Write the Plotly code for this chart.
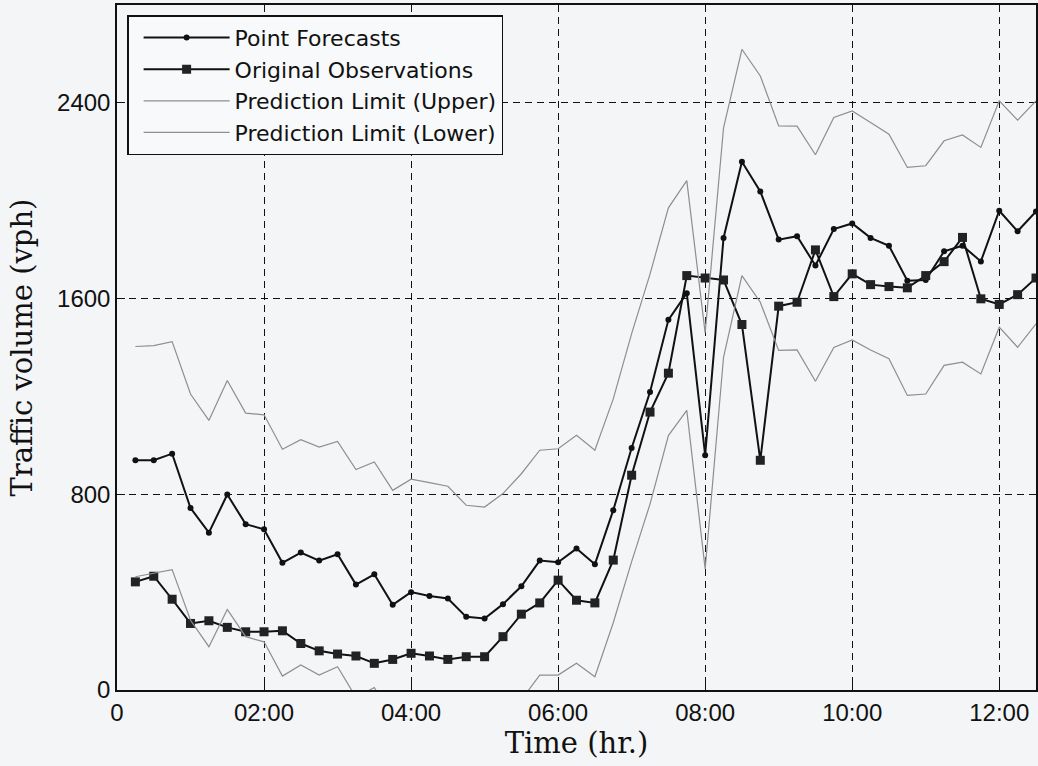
import plotly.graph_objects as go

hours = [0.25, 0.5, 0.75, 1.0, 1.25, 1.5, 1.75, 2.0, 2.25, 2.5,
         2.75, 3.0, 3.25, 3.5, 3.75, 4.0, 4.25, 4.5, 4.75, 5.0,
         5.25, 5.5, 5.75, 6.0, 6.25, 6.5, 6.75, 7.0, 7.25, 7.5,
         7.75, 8.0, 8.25, 8.5, 8.75, 9.0, 9.25, 9.5, 9.75, 10.0,
         10.25, 10.5, 10.75, 11.0, 11.25, 11.5, 11.75, 12.0, 12.25, 12.5]

point_forecasts = [939, 939, 966, 744, 643, 799, 678, 657, 520, 562,
                   529, 555, 431, 473, 348, 400, 384, 374, 299, 292,
                   351, 424, 529, 522, 578, 514, 735, 989, 1218, 1513,
                   1622, 960, 1848, 2159, 2038, 1841, 1855, 1735, 1884, 1907,
                   1848, 1816, 1673, 1676, 1793, 1816, 1752, 1959, 1875, 1956]

observations = [442, 465, 371, 272, 283, 256, 238, 238, 242, 190,
                160, 147, 139, 109, 125, 150, 139, 125, 136, 136,
                218, 310, 356, 449, 367, 356, 531, 878, 1136, 1295,
                1694, 1684, 1676, 1494, 939, 1569, 1585, 1799, 1608, 1701,
                1657, 1649, 1644, 1694, 1751, 1850, 1599, 1576, 1616, 1684]

upper_limit = [1404, 1408, 1424, 1210, 1102, 1265, 1132, 1125, 984, 1023,
               993, 1016, 901, 932, 816, 862, 848, 833, 755, 748,
               803, 884, 980, 986, 1041, 980, 1190, 1457, 1700, 1971,
               2082, 1460, 2298, 2619, 2510, 2306, 2305, 2188, 2340, 2367,
               2320, 2272, 2136, 2143, 2245, 2269, 2218, 2408, 2329, 2408]

lower_limit = [463, 476, 492, 285, 177, 329, 218, 197, 57, 102,
               61, 95, -30, 10, -115, -65, -80, -90, -165, -172,
               -115, -40, 61, 61, 109, 54, 275, 525, 760, 1040,
               1143, 495, 1360, 1694, 1585, 1388, 1390, 1262, 1400, 1431,
               1390, 1354, 1204, 1210, 1327, 1340, 1292, 1483, 1401, 1497]

x_tick_vals = [0, 2, 4, 6, 8, 10, 12]
x_tick_text = ["0", "02:00", "04:00", "06:00", "08:00", "10:00", "12:00"]
y_tick_vals = [0, 800, 1600, 2400]

BG = "#f4f5f7"
sans = "Liberation Sans, Arial, sans-serif"
legend_font = "DejaVu Sans, Liberation Sans, Arial, sans-serif"
serif = "DejaVu Serif, Liberation Serif, serif"

fig = go.Figure()
fig.add_trace(go.Scatter(x=hours, y=point_forecasts, name="Point Forecasts",
                         mode="lines+markers",
                         line=dict(color="#111111", width=2),
                         marker=dict(symbol="circle", size=6, color="#111111")))
fig.add_trace(go.Scatter(x=hours, y=observations, name="Original Observations",
                         mode="lines+markers",
                         line=dict(color="#111111", width=2),
                         marker=dict(symbol="square", size=9, color="#222222")))
fig.add_trace(go.Scatter(x=hours, y=upper_limit, name="Prediction Limit (Upper)",
                         mode="lines", line=dict(color="#8e8e8e", width=1.2)))
fig.add_trace(go.Scatter(x=hours, y=lower_limit, name="Prediction Limit (Lower)",
                         mode="lines", line=dict(color="#8e8e8e", width=1.2)))

fig.update_layout(
    width=1038, height=766,
    margin=dict(l=117, r=0, t=5, b=76),
    paper_bgcolor=BG, plot_bgcolor=BG,
    font=dict(family=sans, size=24, color="#111111"),
    showlegend=True,
    legend=dict(x=0.011, y=0.985, xanchor="left", yanchor="top",
                bgcolor="#f8f9fa", bordercolor="#111111", borderwidth=1.5,
                font=dict(family=legend_font, size=22, color="#111111"),
                itemwidth=86, indentation=10, tracegroupgap=0),
)
fig.update_xaxes(range=[0, 12.5], tickmode="array", tickvals=x_tick_vals,
                 ticktext=x_tick_text, ticks="inside", ticklen=8,
                 tickcolor="#111111", showline=True, linecolor="#111111",
                 linewidth=1.5, mirror=True, showgrid=True,
                 gridcolor="#111111", griddash="7px,5px", gridwidth=1.2,
                 zeroline=False,
                 title=dict(text="Time (hr.)", font=dict(family=serif, size=29),
                            standoff=5))
fig.update_yaxes(range=[0, 2800], tickmode="array", tickvals=y_tick_vals,
                 ticks="inside", ticklen=8, tickcolor="#111111",
                 showline=True, linecolor="#111111", linewidth=1.5,
                 mirror=True, showgrid=True, gridcolor="#111111",
                 griddash="7px,5px", gridwidth=1.2, zeroline=False,
                 title=dict(text="Traffic volume (vph)",
                            font=dict(family=serif, size=29), standoff=16))

fig.write_html("out.html")
